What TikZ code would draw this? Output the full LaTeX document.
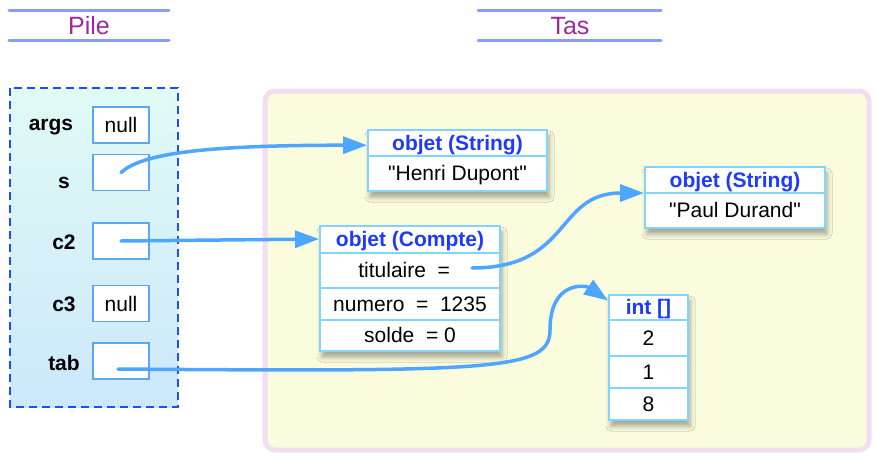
\documentclass[tikz,border=0pt]{standalone}
\usepackage{fontspec}
\setmainfont{Liberation Sans}[Ligatures=TeXOff]
\usepackage{xcolor}
\usepackage{tikz}
\usetikzlibrary{shapes.multipart,arrows.meta,calc,shadows.blur}

\definecolor{ptrblue}{RGB}{77,166,255}
\definecolor{cellline}{RGB}{128,212,255}
\definecolor{refline}{RGB}{90,168,240}
\definecolor{typeblue}{RGB}{31,58,255}
\definecolor{titlepurple}{RGB}{155,42,155}
\definecolor{titleline}{RGB}{138,157,248}
\definecolor{stackdash}{RGB}{26,79,255}
\definecolor{stacktop}{RGB}{224,250,244}
\definecolor{stackbot}{RGB}{204,232,251}
\definecolor{heapfill}{RGB}{251,251,221}
\definecolor{heapline}{RGB}{242,222,243}

% one row of an object: fixed height (split line taken off), text centred
\newcommand\cell[2]{\rule[\dimexpr 7pt-#1pt/2+1pt\relax]{0pt}{\dimexpr #1pt-2pt\relax}#2}
\newcommand\typename[1]{{\color{typeblue}\bfseries #1}}
\newcommand\boxfont{\fontsize{21}{24}\selectfont}

\begin{document}
\begin{tikzpicture}[x=1pt,y=-1pt,
    titleline/.style={draw=titleline, line width=3pt, line cap=round},
    titletext/.style={text=titlepurple, font=\fontsize{25}{28}\selectfont},
    varname/.style={font=\boxfont\bfseries},
    refbox/.style={draw=refline, line width=1.5pt, fill=white, minimum width=56pt,
        minimum height=36pt, inner sep=0pt, font=\boxfont},
    objbox/.style={rectangle split, rectangle split parts=#1, draw=cellline,
        line width=2pt, fill=white, inner xsep=4pt, inner ysep=0pt,
        font=\boxfont, anchor=north west,
        blur shadow={shadow xshift=2pt, shadow yshift=-6pt,
            shadow blur radius=5pt, shadow opacity=35}},
    ptr/.style={draw=ptrblue, line width=3.5pt, line cap=round,
        -{Triangle[length=24pt,width=17pt]}}]
    \useasboundingbox (0,0) rectangle (875,456);

    % Titles
    \draw[titleline] (9,10) -- (169,10);
    \draw[titleline] (9,40) -- (169,40);
    \node[titletext] (pile) at (89,26) {Pile};
    \draw[titleline] (478,10) -- (661,10);
    \draw[titleline] (478,40) -- (661,40);
    \node[titletext] (tas) at (570,26) {Tas};

    % Heap
    \draw[draw=heapline, fill=heapfill, line width=5pt, rounded corners=10pt]
        (265,91) rectangle (869,450);

    % Stack
    \shade[top color=stacktop, bottom color=stackbot] (10,88) rectangle (178,407);
    \draw[stackdash, line width=1.5pt, dash pattern=on 8pt off 5pt]
        (10,88) rectangle (178,407);

    \node[varname] (argslbl) at (51,127) {args};
    \node[varname] (slbl) at (64,183) {s};
    \node[varname] (ctwolbl) at (64,242) {c2};
    \node[varname] (cthreelbl) at (64,304) {c3};
    \node[varname] (tablbl) at (64,363) {tab};

    \node[refbox] (args) at (121,125) {null};
    \node[refbox] (s) at (121,172.5) {};
    \node[refbox] (ctwo) at (121,241) {};
    \node[refbox] (cthree) at (121,303.5) {null};
    \node[refbox] (tab) at (121,361) {};

    % Objects in the heap
    \node[objbox=2, minimum width=179pt] (strA) at (367,129)
        {\cell{26}{\typename{objet (String)}}\nodepart{two}\cell{35}{"Henri Dupont"}};
    \node[objbox=2, minimum width=180pt] (strB) at (644,166)
        {\cell{26}{\typename{objet (String)}}\nodepart{two}\cell{35}{"Paul Durand"}};
    \node[objbox=4, minimum width=180pt] (cpt) at (319,225)
        {\cell{27}{\typename{objet (Compte)}}
         \nodepart{two}\cell{35}{titulaire~ =~~~}
         \nodepart{three}\cell{32}{numero~ =~ 1235}
         \nodepart{four}\cell{31}{solde~ = 0}};
    \node[objbox=4, minimum width=79pt] (arr) at (608,294)
        {\cell{25}{\typename{int []}}
         \nodepart{two}\cell{36}{2}
         \nodepart{three}\cell{32}{1}
         \nodepart{four}\cell{32}{8}};

    % References
    \draw[ptr] (s.center) .. controls +(20,-18) and +(-170,0)
        .. ($(strA.north west)!0.6!(strA.text split west)$);
    \draw[ptr] (ctwo.center) -- ($(cpt.north west)!0.5!(cpt.text split west)$);
    \draw[ptr] ($(cpt.north east)+(-29,43)$) .. controls +(100,0) and +(-89,0)
        .. (strB.text split west);
    \coordinate (tabbend) at (550,330);
    \draw[ptr] ($(tab.center)+(-3,8)$) .. controls +(380,3) and +(0,40) .. (tabbend)
        .. controls +(0,-50) and +(-22,-15)
        .. ($(arr.north west)!0.25!(arr.text split west)$);
\end{tikzpicture}
\end{document}
